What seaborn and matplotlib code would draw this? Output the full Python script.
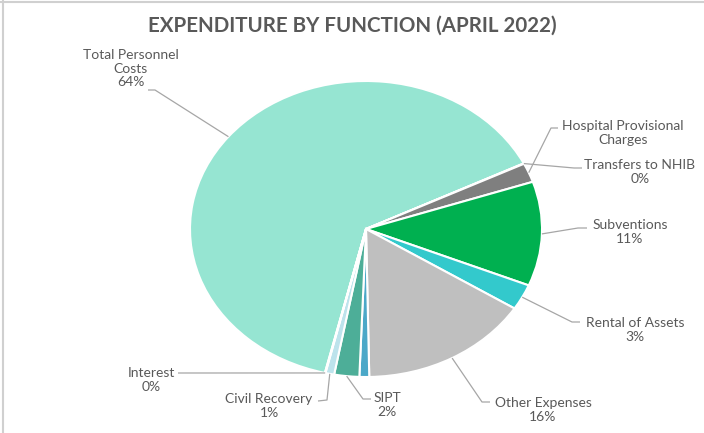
import numpy as np
import matplotlib
matplotlib.use("Agg")
import matplotlib.pyplot as plt
import seaborn as sns
from matplotlib.lines import Line2D

sns.set_theme(style="white")
plt.rcParams['font.family'] = ['Lato', 'DejaVu Sans']

# ---- data ----
categories = ["Total Personnel\nCosts", "Transfers to NHIB", "Hospital Provisional\nCharges",
              "Subventions", "Rental of Assets", "Other Expenses", "",
              "SIPT", "Civil Recovery", "Interest"]
values = [64.0, 0.05, 2.1, 11.4, 2.8, 15.7, 0.9, 2.3, 0.8, 0.05]
pct_labels = ["64%", "0%", "", "11%", "3%", "16%", "", "2%", "1%", "0%"]
colors = ["#96E5D2", "#A5A5A5", "#7F7F7F", "#00B050", "#33C9CC", "#BFBFBF",
          "#4BA8C8", "#4DAE98", "#BDE3EC", "#8FD0E0"]
title = "EXPENDITURE BY FUNCTION (APRIL 2022)"

# ---- layout (pixels in 704x433 canvas) ----
W, H = 704, 433
CX, CY, RX, RY = 366, 229, 176, 148
# text centre, elbow point, line end point near text
label_layout = {
    0: ((131, 69), (155, 90), (148, 90)),
    1: ((640, 172), (574, 168), (582, 168)),
    2: ((623, 133), (551, 128), (558, 128)),
    3: ((630, 232), (578, 228), (587, 228)),
    4: ((635, 330), (572, 322), (580, 322)),
    5: ((543, 410), (482, 402), (490, 402)),
    7: ((387, 405), (363, 399), (371, 399)),
    8: ((269, 406), (327, 400), (318, 401)),
    9: ((151, 380), (185, 373), (178, 373)),
}

def px2d(p):
    return ((p[0] - CX) / RX, (CY - p[1]) / RY)

fig = plt.figure(figsize=(W / 100, H / 100), dpi=100)
fig.patch.set_facecolor("white")
ax = fig.add_axes([(CX - RX) / W, (H - CY - RY) / H, 2 * RX / W, 2 * RY / H])

wedges, _ = ax.pie(values, colors=colors, startangle=-103.5, counterclock=False,
                   wedgeprops=dict(edgecolor="white", linewidth=1.5))
ax.set_aspect("auto")
ax.set_xlim(-1, 1)
ax.set_ylim(-1, 1)
ax.axis("off")

text_color = "#595959"
line_color = "#A6A6A6"
for i, w in enumerate(wedges):
    if i not in label_layout:
        continue
    mid = np.deg2rad((w.theta1 + w.theta2) / 2)
    ex, ey = np.cos(mid), np.sin(mid)
    (tc, elbow, end) = label_layout[i]
    bx, by = px2d(elbow)
    nx, ny = px2d(end)
    ax.plot([ex, bx, nx], [ey, by, ny], color=line_color, lw=0.9, clip_on=False,
            solid_capstyle="butt")
    tx, ty = px2d(tc)
    txt = categories[i] + ("\n" + pct_labels[i] if pct_labels[i] else "")
    ax.text(tx, ty, txt, ha="center", va="center", multialignment="center",
            fontsize=10, color=text_color, linespacing=1.15, clip_on=False)

fig.text(352 / W, 1 - 26 / H, title, ha="center", va="center", fontsize=14.8,
         fontweight="bold", color=text_color)

# chart frame edges
fig.add_artist(Line2D([0, 1], [1 - 1.5 / H, 1 - 1.5 / H], color="#D0D0D0", lw=1.5,
                      transform=fig.transFigure))
fig.add_artist(Line2D([3 / W, 3 / W], [0, 1], color="#D0D0D0", lw=1.5,
                      transform=fig.transFigure))

fig.savefig("out.png", dpi=100, facecolor="white")
